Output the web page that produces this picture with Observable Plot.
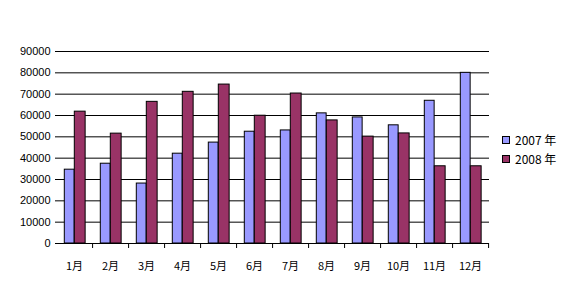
<!DOCTYPE html>
<html><head><meta charset="utf-8">
<script src="https://cdn.jsdelivr.net/npm/d3@7"></script>
<script src="https://cdn.jsdelivr.net/npm/@observablehq/plot@0.6"></script>
<style>
body{margin:0;background:#fff;}
#wrap{position:relative;width:583px;height:296px;}
.leg{position:absolute;left:502px;font:12px "Liberation Sans",Arial,sans-serif;color:#000;display:flex;align-items:center;}
.leg span.sw{display:inline-block;width:6px;height:6px;border:1px solid #000;margin-right:5px;}
</style></head>
<body><div id="wrap"></div>
<script>
const months = ["1月","2月","3月","4月","5月","6月","7月","8月","9月","10月","11月","12月"];
const series = ["2007 年","2008 年"];
const colors = ["#9999FF","#993366"];
const v2007 = [34600,37400,28100,42100,47300,52400,53000,61000,59100,55400,66900,80000];
const v2008 = [61800,51500,66400,71100,74500,59900,70300,57700,50100,51600,36200,36200];
const yTicks = [0,10000,20000,30000,40000,50000,60000,70000,80000,90000];

const data = months.flatMap((m,i)=>[
  {month:m, series:series[0], value:v2007[i]},
  {month:m, series:series[1], value:v2008[i]}
]);
const W=583,H=296,mL=55,mR=94,mT=51,mB=53;
const step=(W-mL-mR)/months.length;

const chart = Plot.plot({
  width:W, height:H, marginLeft:mL, marginRight:mR, marginTop:mT, marginBottom:mB,
  style:{background:"transparent", fontFamily:"'Liberation Sans',Arial,sans-serif", fontSize:"11px", color:"#000"},
  x:{domain:months, padding:0, label:null},
  y:{domain:[0,90000], label:null},
  color:{domain:series, range:colors},
  marks:[
    Plot.gridY(yTicks,{stroke:"#000", strokeOpacity:1, strokeWidth:1}),
    Plot.barY(data.filter(d=>d.series===series[0]),{x:"month", y:"value", fill:"series", stroke:"#000", strokeWidth:1, insetLeft:8.3, insetRight:step-18.3}),
    Plot.barY(data.filter(d=>d.series===series[1]),{x:"month", y:"value", fill:"series", stroke:"#000", strokeWidth:1, insetLeft:18.3, insetRight:step-29.3}),
    Plot.axisY(yTicks,{tickSize:0, tickPadding:5, tickFormat:d=>String(d), fontSize:11, label:null}),
    Plot.ruleY([0],{stroke:"#000", strokeWidth:1}),
    Plot.ruleX([0],{frameAnchor:"left", stroke:"#000"}),
    Plot.axisX({tickSize:5, tickFormat:()=>"", dx:step/2, stroke:"#000", label:null}),
    Plot.axisX({tickSize:0, tickPadding:19, fontFamily:"'Noto Sans CJK SC',sans-serif", fontSize:11, label:null})
  ]
});
document.getElementById("wrap").appendChild(chart);
const wrap=document.getElementById("wrap");
series.forEach((s,i)=>{
  const d=document.createElement("div");
  d.className="leg";
  d.style.top=(131+i*19)+"px";
  d.innerHTML=`<span class="sw" style="background:${colors[i]}"></span><span style="font-family:'Noto Sans CJK SC','Liberation Sans',sans-serif">${s}</span>`;
  wrap.appendChild(d);
});
</script></body></html>
